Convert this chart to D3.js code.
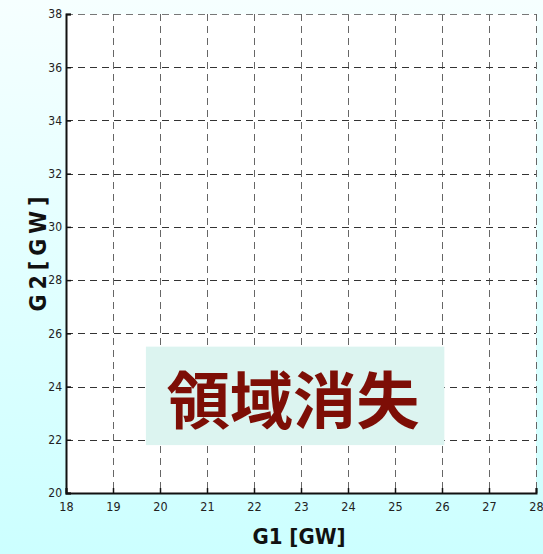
<!DOCTYPE html>
<html>
<head>
<meta charset="utf-8">
<script src="https://cdn.jsdelivr.net/npm/d3@7"></script>
<style>
  html, body { margin: 0; padding: 0; }
  body { width: 543px; height: 554px; overflow: hidden; }
</style>
</head>
<body>
<script>
// ---- data ----
const xTicks = [18, 19, 20, 21, 22, 23, 24, 25, 26, 27, 28];
const yTicks = [20, 22, 24, 26, 28, 30, 32, 34, 36, 38];
const xDomain = [18, 28];
const yDomain = [20, 38];
const xLabel = "G1 [GW]";
const yLabel = "G2[GW]";
const noteText = "領域消失";
const noteBox = { x0: 19.7, x1: 26.05, y0: 21.8, y1: 25.5 };

const W = 543, H = 554;
const m = { left: 66, right: 7, top: 14, bottom: 61 };

const svg = d3.select("body").append("svg")
  .attr("width", W).attr("height", H);

const defs = svg.append("defs");
const grad = defs.append("linearGradient").attr("id", "bg")
  .attr("x1", 0).attr("y1", 0).attr("x2", 0).attr("y2", 1);
grad.append("stop").attr("offset", "0%").attr("stop-color", "#f6ffff");
grad.append("stop").attr("offset", "100%").attr("stop-color", "#ccffff");

svg.append("rect").attr("width", W).attr("height", H).attr("fill", "url(#bg)");

const x = d3.scaleLinear().domain(xDomain).range([m.left, W - m.right]);
const y = d3.scaleLinear().domain(yDomain).range([H - m.bottom, m.top]);

// plot area
svg.append("rect")
  .attr("x", x(xDomain[0])).attr("y", y(yDomain[1]))
  .attr("width", x(xDomain[1]) - x(xDomain[0]))
  .attr("height", y(yDomain[0]) - y(yDomain[1]))
  .attr("fill", "#ffffff");

// grid
const grid = svg.append("g")
  .attr("stroke", "#333").attr("stroke-width", 1)
  .attr("stroke-dasharray", "7,5").attr("fill", "none");
grid.selectAll("line.v").data(xTicks.slice(1)).join("line")
  .attr("x1", d => Math.round(x(d)) + 0.5).attr("x2", d => Math.round(x(d)) + 0.5)
  .attr("y1", y(yDomain[1])).attr("y2", y(yDomain[0]))
  .attr("stroke", "#666");
grid.selectAll("line.h").data(yTicks.slice(1)).join("line")
  .attr("y1", d => Math.round(y(d)) + 0.5).attr("y2", d => Math.round(y(d)) + 0.5)
  .attr("x1", x(xDomain[0])).attr("x2", x(xDomain[1]))
  .attr("stroke", d => d === yDomain[1] ? "#777" : "#333");

// axes
const fontTick = "'Liberation Sans Narrow', 'DejaVu Sans Condensed', sans-serif";
const xAxis = d3.axisBottom(x).tickValues(xTicks).tickSize(-5).tickPadding(9)
  .tickFormat(d3.format("d"));
const yAxis = d3.axisLeft(y).tickValues(yTicks).tickSize(-5).tickPadding(4)
  .tickFormat(d3.format("d"));

const gx = svg.append("g").attr("transform", `translate(0,${y(yDomain[0])})`).call(xAxis);
const gy = svg.append("g").attr("transform", `translate(${x(xDomain[0])},0)`).call(yAxis);
[gx, gy].forEach(g => {
  g.select(".domain").attr("stroke", "#111").attr("stroke-width", 2);
  g.selectAll(".tick line").attr("stroke", "#111").attr("stroke-width", 1.5);
  g.selectAll(".tick text").attr("fill", "#222")
    .style("font-family", fontTick).style("font-size", "12.5px");
});
gy.selectAll(".tick text").style("font-size", "12px");

// note box
svg.append("rect")
  .attr("x", x(noteBox.x0)).attr("y", y(noteBox.y1))
  .attr("width", x(noteBox.x1) - x(noteBox.x0))
  .attr("height", y(noteBox.y0) - y(noteBox.y1))
  .attr("fill", "#dcf4f0");
svg.append("text")
  .attr("x", (x(noteBox.x0) + x(noteBox.x1)) / 2 - 2)
  .attr("y", (y(noteBox.y0) + y(noteBox.y1)) / 2 + 1)
  .attr("text-anchor", "middle").attr("dominant-baseline", "central")
  .attr("fill", "#7d0e06")
  .style("font-family", "'Noto Sans CJK JP', sans-serif")
  .style("font-weight", "bold").style("font-size", "62px")
  .attr("textLength", 253).attr("lengthAdjust", "spacingAndGlyphs")
  .text(noteText);

// axis labels
svg.append("text")
  .attr("x", 299).attr("y", 544)
  .attr("text-anchor", "middle")
  .attr("fill", "#111")
  .style("font-family", "'DejaVu Sans Condensed', 'DejaVu Sans', sans-serif")
  .style("font-weight", "bold").style("font-size", "22px")
  .attr("textLength", 93).attr("lengthAdjust", "spacingAndGlyphs")
  .text(xLabel);

svg.append("text")
  .attr("transform", "translate(46,254) rotate(-90)")
  .attr("text-anchor", "middle")
  .attr("fill", "#111")
  .style("font-family", "'DejaVu Sans Condensed', 'DejaVu Sans', sans-serif")
  .style("font-weight", "bold").style("font-size", "23px")
  .attr("textLength", 115).attr("lengthAdjust", "spacing")
  .text(yLabel);
</script>
</body>
</html>
